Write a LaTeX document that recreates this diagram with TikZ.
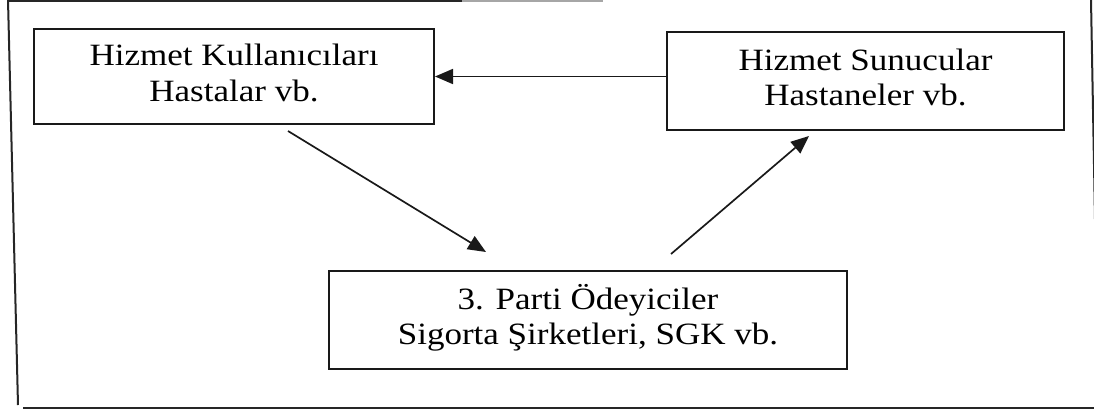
\documentclass[tikz,border=0pt]{standalone}
\usepackage{fontspec}
\setmainfont{Liberation Serif}
\usepackage{graphicx}
\usetikzlibrary{arrows.meta}
\newcommand\stxt[1]{\scalebox{1.13}[1]{\begin{tabular}{@{}c@{}}#1\end{tabular}}}
\begin{document}
\begin{tikzpicture}[x=1pt,y=-1pt,
  box/.style={draw=black!90,line width=2pt,inner sep=0pt,anchor=north west,
    font=\fontsize{31}{35.5}\selectfont},
  conn/.style={line width=1.7pt,black!90,-{Triangle[length=18pt,width=15pt]}},
  frame/.style={line width=2pt,black!85}]
\useasboundingbox (0,0) rectangle (1094,410);
\clip (0,0) rectangle (1094,410);
% outer frame (scanned border)
\draw[frame] (8,0) -- (18,405);
\draw[frame] (8,1) -- (462,1);
\draw[line width=2pt,black!35] (462,1) -- (603,1);
\draw[frame] (23,408) -- (1094,408);
\draw[frame] (1091,0) -- (1095,220);
% boxes
\node[box,minimum width=400pt,minimum height=95pt] (A) at (33,28)
  {\stxt{Hizmet Kullanıcıları\\Hastalar vb.}};
\node[box,minimum width=397pt,minimum height=98pt] (B) at (666,31)
  {\stxt{Hizmet Sunucular\\Hastaneler vb.}};
\node[box,minimum width=518pt,minimum height=98pt] (C) at (328,270)
  {\stxt{3. Parti Ödeyiciler\\Sigorta Şirketleri, SGK vb.}};
% connectors
\draw[conn] (B.west |- A.east) -- (A.east);
\draw[conn] ([shift={(255,6)}]A.south west) -- ([shift={(158,-18)}]C.north west);
\draw[conn] ([shift={(343,-16)}]C.north west) -- ([shift={(143,5)}]B.south west);
\end{tikzpicture}
\end{document}
